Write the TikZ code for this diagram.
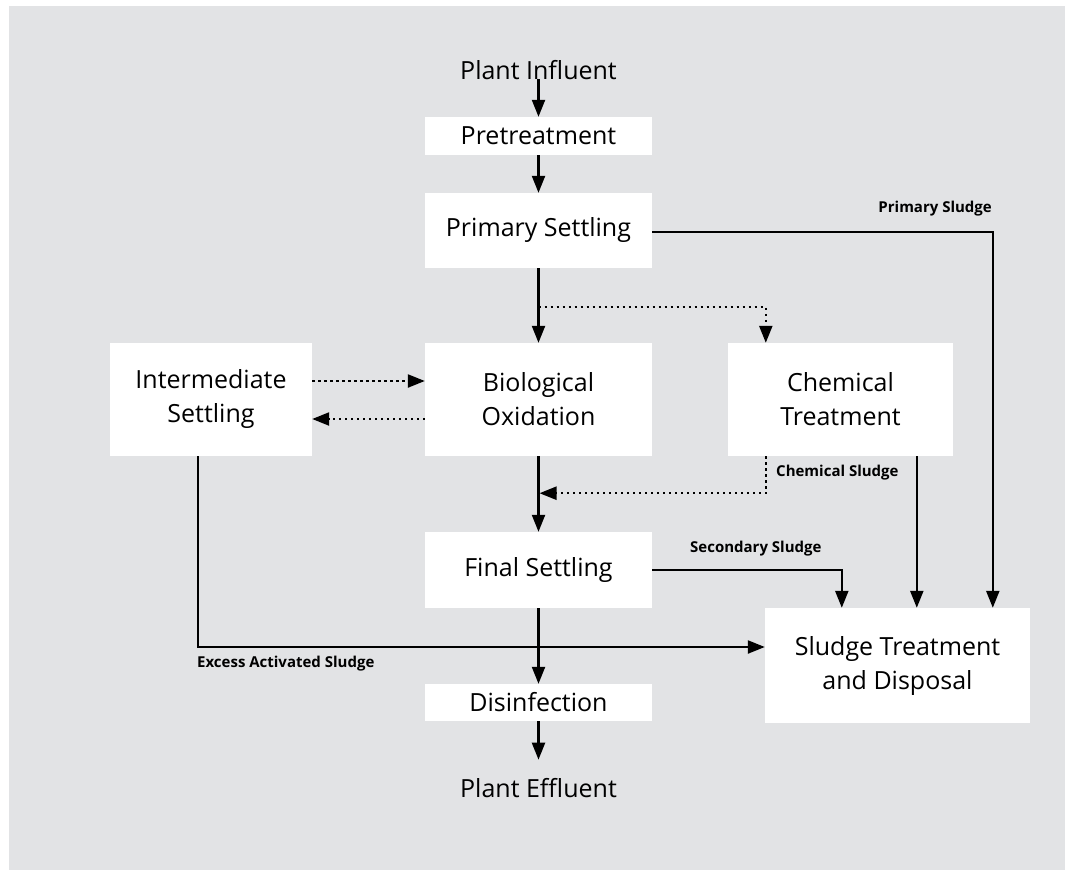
\documentclass[tikz,border=0pt]{standalone}
\usepackage{fontspec}
\setmainfont{Open Sans}
\usetikzlibrary{arrows.meta}
\definecolor{panel}{HTML}{E2E3E5}

\begin{document}
\begin{tikzpicture}[x=1pt,y=-1pt,
  box/.style={fill=white, draw=none, inner sep=0pt, align=center,
              font=\fontsize{25}{34}\selectfont},
  term/.style={inner sep=0pt, font=\fontsize{25}{30}\selectfont},
  lbl/.style={inner sep=0pt, font=\fontsize{15}{17}\selectfont\bfseries},
  flow/.style={line width=2.3pt, -{Triangle[length=17pt,width=13pt]}},
  aux/.style={flow, dash pattern=on 2.3pt off 3.7pt}]

\useasboundingbox (0,0) rectangle (1065,870);
\fill[panel] (9,6) rectangle (1065,870);

% process units
\node[term, anchor=base] (infl) at (538.5,79) {Plant Influent};
\node[box, minimum width=227pt, minimum height=38pt] (pre)   at (538.5,136)   {Pretreatment};
\node[box, minimum width=227pt, minimum height=75pt] (prim)  at (538.5,230.5) {Primary Settling};
\node[box, minimum width=202pt, minimum height=113pt] (inter) at (211,399.5)  {Intermediate\\Settling};
\node[box, minimum width=227pt, minimum height=113pt] (bio)   at (538.5,399.5) {Biological\\Oxidation};
\node[box, minimum width=225pt, minimum height=113pt] (chem)  at (840.5,399.5) {Chemical\\Treatment};
\node[box, minimum width=227pt, minimum height=76pt] (final) at (538.5,570)   {Final Settling};
\node[box, minimum width=227pt, minimum height=37pt] (dis)   at (538.5,702.5) {Disinfection};
\node[box, minimum width=265pt, minimum height=115pt] (sludge) at (897.5,665.5) {Sludge Treatment\\and Disposal};
\node[term, anchor=base] (eff) at (538.5,797) {Plant Effluent};

% main liquid train
\draw[flow] (infl.base) -- (pre.north);
\draw[flow] (pre) -- (prim);
\draw[flow] (prim) -- (bio);
\draw[flow] (bio) -- (final);
\draw[flow] (final) -- (dis);
\draw[flow] (dis) -- ([yshift=18pt]eff.north);

% optional routes
\draw[aux] ([yshift=-39pt]prim.south) -| ([xshift=38pt]chem.north west);
\draw[aux] ([yshift=18.5pt]inter.east) -- ([yshift=18.5pt]bio.west);
\draw[aux] ([yshift=-19.5pt]bio.west) -- ([yshift=-19.5pt]inter.east);
\draw[aux] ([xshift=38pt]chem.south west) |- ([xshift=1pt,yshift=-37pt]bio.south);

% sludge lines
\draw[flow] ([yshift=-1.5pt]prim.east) -| ([xshift=228pt]sludge.north west);
\draw[flow] ([xshift=189pt]chem.south west) -- ([xshift=152pt]sludge.north west);
\draw[flow] (final.east) -| ([xshift=77pt]sludge.north west);
\draw[flow] ([xshift=88pt]inter.south west) |- ([yshift=18.5pt]sludge.west);

% sludge labels
\node[lbl, anchor=east] (lp) at (992,209) {Primary Sludge};
\node[lbl, anchor=west] (lc) at (776,473) {Chemical Sludge};
\node[lbl, anchor=west] (ls) at (690,549) {Secondary Sludge};
\node[lbl, anchor=west] (le) at (197,664) {Excess Activated Sludge};
\end{tikzpicture}
\end{document}
